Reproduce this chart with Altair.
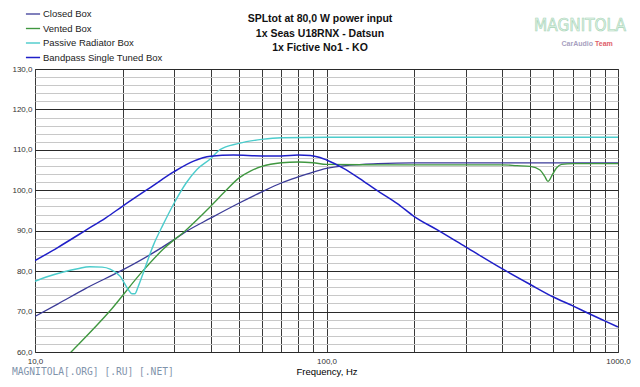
import altair as alt
import pandas as pd

# ---------------- data ----------------
series_names = ["Closed Box", "Vented Box", "Passive Radiator Box", "Bandpass Single Tuned Box"]
series_colors = ["#3b3b98", "#3f973f", "#4ccccc", "#1f1fc8"]
series_widths = [1.3, 1.5, 2.0, 2.0]

closed_f = [10, 12, 15, 20, 25, 30, 33, 40, 50, 60, 70, 80, 90, 100, 120, 150, 200, 300, 500, 700, 1000]
closed_db = [68.8, 71.9, 75.8, 80.3, 84.2, 87.8, 89.8, 93.1, 96.8, 99.6, 101.8, 103.3, 104.5, 105.4, 106.2,
             106.6, 106.8, 106.8, 106.8, 106.8, 106.8]

vented_f = [10, 13.3, 18, 23.4, 27.5, 33, 40, 45, 50, 55, 60, 70, 80, 90, 100, 150, 200, 300, 400, 450,
            500, 540, 560, 575, 595, 615, 640, 700, 1000]
vented_db = [51.0, 60.0, 70.0, 80.0, 85.4, 90.2, 96.0, 99.8, 103.0, 104.8, 105.9, 106.8, 107.0, 106.8, 106.4,
             106.3, 106.3, 106.3, 106.3, 106.1, 105.9, 105.0, 103.5, 102.2, 103.8, 105.5, 106.4, 106.6, 106.6]

passive_f = [10, 11, 12.5, 14, 15.4, 17, 18.1, 19.6, 20.9, 21.5, 22.0, 22.6, 23.5, 25.5, 27.5, 30, 33, 36,
             40, 43, 50, 60, 70, 100, 1000]
passive_db = [77.5, 78.6, 79.8, 80.6, 81.1, 81.0, 80.5, 78.7, 75.4, 74.4, 74.4, 76.2, 79.5, 86.5, 91.5, 96.8,
              101.8, 105.2, 107.8, 110.0, 111.6, 112.6, 113.0, 113.1, 113.1]

bandpass_f = [10, 12, 15, 17.5, 20, 25, 30, 35, 40, 48, 60, 70, 80, 88, 95, 100, 114, 130, 148, 175, 200,
              240, 300, 400, 500, 600, 700, 800, 900, 1000]
bandpass_db = [82.6, 85.9, 90.2, 93.2, 96.1, 100.8, 104.6, 107.2, 108.4, 108.7, 108.5, 108.5, 108.7, 108.6,
               108.1, 107.5, 105.5, 102.9, 100.1, 96.7, 93.5, 90.2, 86.0, 80.6, 76.7, 73.6, 71.4, 69.4, 67.7,
               66.2]

x_grid_values = [10, 20, 30, 40, 50, 60, 70, 80, 90, 100, 200, 300, 400, 500, 600, 700, 800, 900, 1000]
y_grid_values = list(range(60, 131, 2))

title_lines = ["SPLtot at 80,0 W power input", "1x Seas U18RNX - Datsun", "1x Fictive No1 - KO"]
watermark_text = ["MAGNITOLA[.ORG] [.RU] [.NET]"]
logo_text = ["MAGNITOLA"]
logo_sub1 = ["CarAudio"]
logo_sub2 = ["Team"]

# ---------------- build table ----------------
rows = []
for name, fs, dbs in zip(series_names,
                         [closed_f, vented_f, passive_f, bandpass_f],
                         [closed_db, vented_db, passive_db, bandpass_db]):
    for f, d in zip(fs, dbs):
        rows.append({"series": name, "f": f, "db": d})
df = pd.DataFrame(rows)

W, H = 583, 283
FONT = "Liberation Sans"

x_scale = alt.Scale(type="log", domain=[10, 1000], nice=False)
y_scale = alt.Scale(domain=[60, 130], nice=False, zero=False)

fmt = "replace(format(datum.value, '.1f'), '.', ',')"

lines = alt.Chart(df).mark_line(clip=True, interpolate="monotone").encode(
    x=alt.X("f:Q", scale=x_scale,
            axis=alt.Axis(values=x_grid_values,
                          labelExpr="indexof([10, 100, 1000], datum.value) >= 0 ? " + fmt + " : ''",
                          labelOverlap=False, labelFlush=False, labelBound=False,
                          title="Frequency, Hz", titleFont=FONT, titleFontSize=9.5,
                          titleFontWeight="normal", titleColor="#000", titlePadding=1,
                          labelFont=FONT, labelFontSize=8, labelColor="#333", labelPadding=5,
                          ticks=False, domain=False, grid=True, gridColor="#3a3a3a",
                          gridWidth=1)),
    y=alt.Y("db:Q", scale=y_scale,
            axis=alt.Axis(values=y_grid_values,
                          labelExpr="datum.value % 10 == 0 ? " + fmt + " : ''",
                          labelOverlap=False, labelBound=False, labelFlush=False,
                          title=None, labelFont=FONT, labelFontSize=8, labelColor="#333",
                          labelPadding=3, ticks=False, domain=False, grid=True,
                          gridColor={"condition": {"test": "datum.value % 10 === 0", "value": "#2a2a2a"},
                                     "value": "#c8c8c8"},
                          gridWidth=1)),
    color=alt.Color("series:N", scale=alt.Scale(domain=series_names, range=series_colors),
                    legend=alt.Legend(title=None, orient="none", legendX=-10, legendY=-63,
                                      symbolType="stroke", symbolSize=200, symbolStrokeWidth=1.6,
                                      labelFont=FONT, labelFontSize=9.5, labelColor="#222",
                                      labelOffset=2, rowPadding=1.5, padding=0)),
    strokeWidth=alt.StrokeWidth("series:N", scale=alt.Scale(domain=series_names, range=series_widths),
                                legend=None),
)

title = alt.Chart(pd.DataFrame({"t": ["\n".join(title_lines)]})).mark_text(
    align="center", baseline="middle", font=FONT, fontSize=10.5, fontWeight="bold", color="#111",
    lineBreak="\n", lineHeight=14.5
).encode(x=alt.value(285), y=alt.value(-50), text="t:N")

watermark = alt.Chart(pd.DataFrame({"t": watermark_text})).mark_text(
    align="left", baseline="middle", font="DejaVu Sans Mono", fontSize=9.6, color="#7f93ab"
).encode(x=alt.value(-23), y=alt.value(H + 20), text="t:N")

logo = alt.Chart(pd.DataFrame({"t": logo_text})).mark_text(
    align="center", baseline="middle", font="Liberation Sans Narrow, DejaVu Sans Condensed, sans-serif",
    fontSize=17, fill="#e4f4ea", stroke="#a6d4b6", strokeWidth=0.6
).encode(x=alt.value(545), y=alt.value(-43), text="t:N")

logo1 = alt.Chart(pd.DataFrame({"t": logo_sub1})).mark_text(
    align="right", baseline="middle", font=FONT, fontSize=7, fontWeight="bold", color="#a79fc0"
).encode(x=alt.value(558), y=alt.value(-25), text="t:N")

logo2 = alt.Chart(pd.DataFrame({"t": logo_sub2})).mark_text(
    align="left", baseline="middle", font=FONT, fontSize=7, fontWeight="bold", color="#e0606a"
).encode(x=alt.value(560), y=alt.value(-25), text="t:N")

chart = alt.layer(lines, title, watermark, logo, logo1, logo2).properties(
    width=W, height=H,
    padding={"left": 27, "top": 61, "right": 14, "bottom": 27},
    autosize=alt.AutoSizeParams(type="none"),
    background="white",
).configure_view(stroke="#3a3a3a", strokeWidth=1)

chart.save("out.html", embed_options={"renderer": "svg", "actions": False})
